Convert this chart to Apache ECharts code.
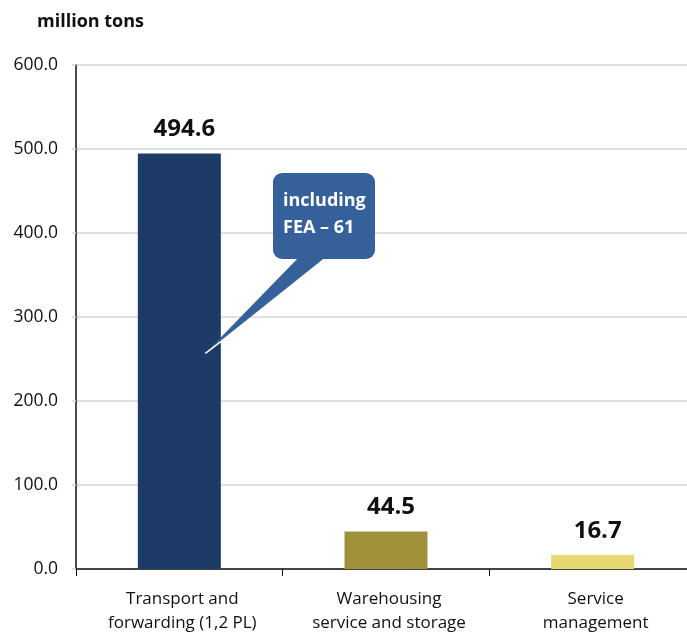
<!DOCTYPE html>
<html>
<head>
<meta charset="utf-8">
<script src="https://cdn.jsdelivr.net/npm/echarts@6/dist/echarts.min.js"></script>
<style>
  html, body { margin: 0; padding: 0; background: #fff; }
  #chart { width: 687px; height: 633px; }
</style>
</head>
<body>
<div id="chart"></div>
<script>
var categories = ["Transport and\nforwarding (1,2 PL)", "Warehousing\nservice and storage", "Service\nmanagement"];
var values = [494.6, 44.5, 16.7];
var barColors = ["#1d3b66", "#9e913a", "#e6d771"];
var yTicks = [0, 100, 200, 300, 400, 500, 600];

var chart = echarts.init(document.getElementById("chart"));

chart.setOption({
  animation: false,
  title: {
    text: "million tons",
    left: 32,
    top: 8,
    textStyle: { fontFamily: "Open Sans", fontWeight: "bold", fontSize: 18, color: "#111" }
  },
  grid: { left: 76, top: 65, width: 620, height: 504, outerBoundsMode: "none", containLabel: false },
  xAxis: {
    type: "category",
    data: categories,
    axisLine: { lineStyle: { color: "#111", width: 1.5 } },
    axisTick: { show: true, length: 7, lineStyle: { color: "#111" } },
    axisLabel: {
      fontFamily: "Open Sans", fontSize: 17, color: "#111",
      margin: 18, lineHeight: 24, padding: [0, 0, 0, 6]
    }
  },
  yAxis: {
    type: "value",
    min: 0, max: yTicks[yTicks.length - 1], interval: 100,
    axisLine: { show: true, lineStyle: { color: "#111", width: 1.5 } },
    axisTick: { show: true, length: 4, lineStyle: { color: "#d6d6d6", width: 1.5 } },
    splitLine: { lineStyle: { color: "#d6d6d6", width: 1.5 } },
    axisLabel: {
      fontFamily: "Open Sans", fontSize: 17.5, color: "#111", margin: 18,
      formatter: function (v) { return v.toFixed(1); }
    }
  },
  series: [{
    type: "bar",
    barWidth: 83,
    data: values.map(function (v, i) {
      return { value: v, itemStyle: { color: barColors[i] } };
    }),
    label: {
      show: true,
      position: "top",
      distance: 12,
      offset: [5, 0],
      fontFamily: "Open Sans", fontWeight: "bold", fontSize: 24, color: "#111",
      formatter: function (p) { return p.value.toFixed(1); }
    }
  }]
});

// callout annotation, tail points into the first bar
var anchor = chart.convertToPixel({ xAxisIndex: 0, yAxisIndex: 0 }, [0, 258]);
var tip = [anchor[0] + 27, anchor[1]];
var barRight = anchor[0] + 41.5;
var base = [[300, 256], [327, 256]];
// white edge of the tail where it runs over the bar
var t = (barRight - tip[0]) / (base[1][0] - tip[0]);
var edgeEnd = [barRight, tip[1] + t * (base[1][1] - tip[1])];
chart.setOption({
  graphic: [
    {
      type: "polygon", z: 100,
      shape: { points: [base[0], base[1], [tip[0], tip[1]]] },
      style: { fill: "#35609a" }
    },
    {
      type: "line", z: 101,
      shape: { x1: tip[0] - 1, y1: tip[1] + 1, x2: edgeEnd[0], y2: edgeEnd[1] + 1 },
      style: { stroke: "#ffffff", lineWidth: 1.5 }
    },
    {
      type: "rect", z: 100,
      shape: { x: 273, y: 173, width: 102, height: 86, r: 9 },
      style: { fill: "#35609a" }
    },
    {
      type: "text", z: 102,
      left: 283, top: 187,
      style: {
        text: "including\nFEA – 61",
        fill: "#ffffff",
        font: "bold 18px 'Open Sans'",
        lineHeight: 27
      }
    }
  ]
});
</script>
</body>
</html>
